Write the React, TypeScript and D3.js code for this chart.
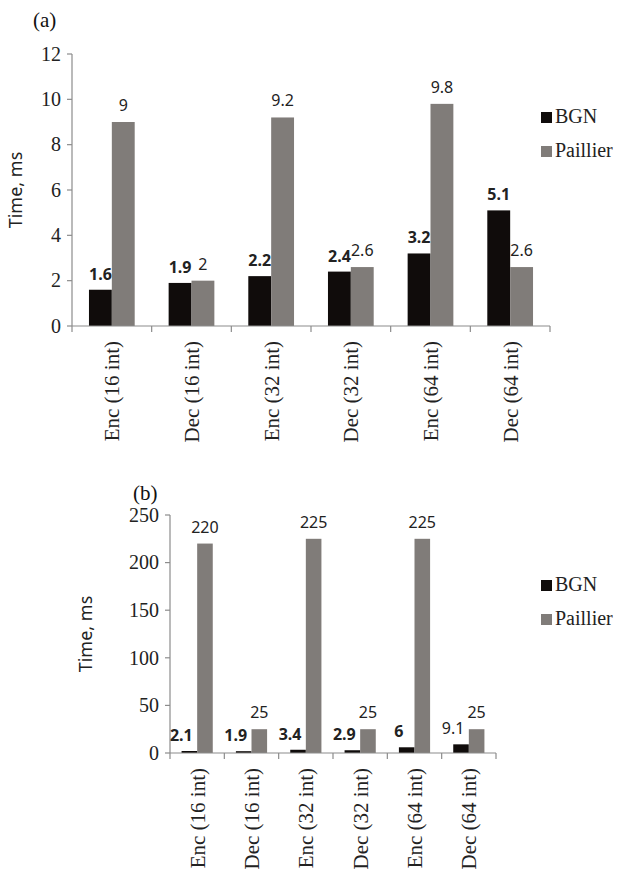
import React from "react"
import * as d3 from "d3"

const categories = ["Enc (16 int)", "Dec (16 int)", "Enc (32 int)", "Dec (32 int)", "Enc (64 int)", "Dec (64 int)"]
const series = ["BGN", "Paillier"]

// chart (a)
const bgnA = [1.6, 1.9, 2.2, 2.4, 3.2, 5.1]
const paillierA = [9, 2, 9.2, 2.6, 9.8, 2.6]
const ticksA = [0, 2, 4, 6, 8, 10, 12]

// chart (b)
const bgnB = [2.1, 1.9, 3.4, 2.9, 6, 9.1]
const paillierB = [220, 25, 225, 25, 225, 25]
const bgnBoldB = [true, true, true, true, true, false]
const ticksB = [0, 50, 100, 150, 200, 250]

const colors = ["#100c0b", "#807c79"]
const axisColor = "#8c8c8c"
const serif = "'Liberation Serif', 'Times New Roman', serif"
const sans = "'Noto Sans', 'Open Sans', sans-serif"

type ChartProps = {
  tag: string
  tagX: number
  tagY: number
  left: number
  right: number
  top: number
  bottom: number
  maxY: number
  ticks: number[]
  bgn: number[]
  paillier: number[]
  bgnBold: boolean[]
  bgnDx: number
  titleX: number
  legendY: number
}

function Chart(p: ChartProps) {
  const x = d3.scaleBand<string>().domain(categories).range([p.left, p.right])
  const y = d3.scaleLinear().domain([0, p.maxY]).range([p.bottom, p.top])
  const bw = x.bandwidth() * 0.287
  const rows = [p.bgn, p.paillier]
  const bounds = categories.map(c => x(c)!).concat([p.right])

  return (
    <g>
      <text x={p.tagX} y={p.tagY} fontFamily={serif} fontSize={21} fill="#111">{p.tag}</text>

      {/* y axis */}
      <line x1={p.left} x2={p.left} y1={p.top} y2={p.bottom} stroke={axisColor} strokeWidth={1.2} />
      {p.ticks.map(t => (
        <g key={t}>
          <line x1={p.left - 5} x2={p.left} y1={y(t)} y2={y(t)} stroke={axisColor} strokeWidth={1.2} />
          <text x={p.left - 11} y={y(t)} dy="0.34em" textAnchor="end" fontFamily={serif} fontSize={20} fill="#222">{t}</text>
        </g>
      ))}
      <text transform={`translate(${p.titleX},${(p.top + p.bottom) / 2}) rotate(-90)`} textAnchor="middle"
        fontFamily={sans} fontSize={18} fill="#222">Time, ms</text>

      {/* bars */}
      {categories.map((c, i) => {
        const cx = x(c)! + x.bandwidth() / 2
        return (
          <g key={c}>
            {rows.map((r, s) => {
              const bx = cx - bw + s * bw
              return <rect key={s} x={bx} y={y(r[i])} width={bw} height={p.bottom - y(r[i])} fill={colors[s]} />
            })}
            <text x={cx - bw / 2 + p.bgnDx} y={y(p.bgn[i]) - 10} textAnchor="middle" fontFamily={sans} fontSize={16}
              fontWeight={p.bgnBold[i] ? "bold" : "normal"} fill="#222">{p.bgn[i]}</text>
            <text x={cx + bw / 2} y={y(p.paillier[i]) - 11} textAnchor="middle" fontFamily={sans} fontSize={16} fill="#222">{p.paillier[i]}</text>
            <text transform={`translate(${cx},${p.bottom + 15}) rotate(-90)`} dy="0.35em" textAnchor="end"
              fontFamily={serif} fontSize={21} fill="#222">{c}</text>
          </g>
        )
      })}

      {/* x axis */}
      <line x1={p.left} x2={p.right} y1={p.bottom} y2={p.bottom} stroke={axisColor} strokeWidth={1.2} />
      {bounds.map((b, i) => (
        <line key={i} x1={b} x2={b} y1={p.bottom} y2={p.bottom + 6} stroke={axisColor} strokeWidth={1.2} />
      ))}

      {/* legend */}
      {series.map((s, i) => (
        <g key={s} transform={`translate(541,${p.legendY + i * 34})`}>
          <rect x={0} y={-11} width={11} height={11} fill={colors[i]} />
          <text x={14} y={0} fontFamily={serif} fontSize={20} fill="#222">{s}</text>
        </g>
      ))}
    </g>
  )
}

export default function App() {
  return (
    <svg width={625} height={873} style={{ position: "absolute", left: 0, top: 0, background: "#fff" }}>
      <rect width={625} height={873} fill="#fff" />
      <Chart tag="(a)" tagX={33} tagY={27} left={72} right={550} top={54} bottom={326} maxY={12}
        ticks={ticksA} bgn={bgnA} paillier={paillierA} bgnBold={categories.map(() => true)} bgnDx={0}
        titleX={22} legendY={123} />
      <Chart tag="(b)" tagX={133} tagY={500} left={170} right={496} top={515} bottom={753} maxY={250}
        ticks={ticksB} bgn={bgnB} paillier={paillierB} bgnBold={bgnBoldB} bgnDx={-8}
        titleX={92} legendY={591} />
    </svg>
  )
}
